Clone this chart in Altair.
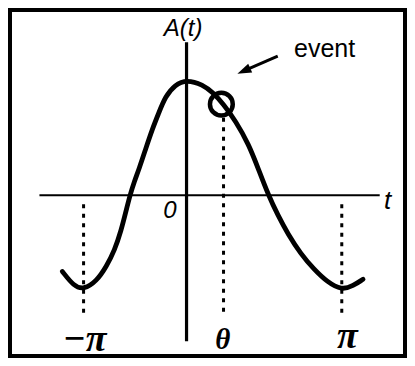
import altair as alt
import pandas as pd

# ---- values (t in radian-like units, A in amplitude units)
curve_t = [-2.519, -2.287, -2.088, -1.823, -1.625, -1.458, -1.326, -1.227, -1.147, -1.060,
           -0.960, -0.829, -0.696, -0.563, -0.431, -0.233, 0.0,
           0.332, 0.531, 0.750, 0.994, 1.259, 1.458, 1.660,
           1.855, 2.054, 2.321, 2.585, 2.849, 3.148, 3.380, 3.579]
curve_a = [-0.730, -0.870, -0.905, -0.823, -0.683, -0.526, -0.338, -0.150, 0.0, 0.131,
           0.256, 0.444, 0.632, 0.789, 0.946, 1.060, 1.108,
           1.060, 0.985, 0.873, 0.711, 0.491, 0.250, 0.0,
           -0.194, -0.370, -0.565, -0.710, -0.830, -0.910, -0.867, -0.805]

# dotted guide lines at -pi, theta, pi
guide_t = [-2.088, 0.75, 3.148]
guide_top = [-0.085, 0.742, -0.085]
guide_bottom = [-1.164, -1.164, -1.164]

# axes extents
xaxis_t = [-2.983, 3.917]
yaxis_a = [-1.399, 1.465]

# event circle
event_t = [0.706]
event_a = [0.873]

# arrow (tail -> head)
arrow_t = [1.849, 1.161]
arrow_a = [1.333, 1.191]

# labels
sans_text = ["A(t)", "event", "t", "0"]
sans_t = [-0.07, 2.80, 4.076, -0.338]
sans_a = [1.596, 1.399, -0.056, -0.150]
sans_size = [24, 25, 26, 24]
sans_style = ["italic", "normal", "italic", "italic"]

serif_text = ["\u2212\u03c0", "\u03b8", "\u03c0"]
serif_t = [-2.068, 0.736, 3.261]
serif_a = [-1.39, -1.39, -1.36]
serif_size = [38, 29, 38]

X_DOMAIN = [-3.58, 4.43]
Y_DOMAIN = [-1.54, 1.775]

xs = alt.Scale(domain=X_DOMAIN, nice=False, zero=False)
ys = alt.Scale(domain=Y_DOMAIN, nice=False, zero=False)

curve_df = pd.DataFrame({"t": curve_t, "A": curve_a})
curve = alt.Chart(curve_df).mark_line(
    color="black", strokeWidth=4.8, interpolate="basis", strokeCap="round"
).encode(
    x=alt.X("t:Q", scale=xs, axis=None),
    y=alt.Y("A:Q", scale=ys, axis=None),
)

xaxis_df = pd.DataFrame({"t1": [xaxis_t[0]], "t2": [xaxis_t[1]], "A": [0.0]})
xaxis = alt.Chart(xaxis_df).mark_rule(color="black", strokeWidth=2).encode(
    x=alt.X("t1:Q", scale=xs, axis=None), x2="t2:Q",
    y=alt.Y("A:Q", scale=ys, axis=None),
)

yaxis_df = pd.DataFrame({"t": [0.0], "a1": [yaxis_a[0]], "a2": [yaxis_a[1]]})
yaxis = alt.Chart(yaxis_df).mark_rule(color="black", strokeWidth=3.2).encode(
    x=alt.X("t:Q", scale=xs, axis=None),
    y=alt.Y("a1:Q", scale=ys, axis=None), y2="a2:Q",
)

guide_df = pd.DataFrame({"t": guide_t, "top": guide_top, "bottom": guide_bottom})
guides = alt.Chart(guide_df).mark_rule(
    color="black", strokeWidth=3, strokeDash=[4, 5.5]
).encode(
    x=alt.X("t:Q", scale=xs, axis=None),
    y=alt.Y("top:Q", scale=ys, axis=None), y2="bottom:Q",
)

event_df = pd.DataFrame({"t": event_t, "A": event_a})
circle = alt.Chart(event_df).mark_point(
    shape="circle", filled=False, color="black", strokeWidth=4.5, size=520, opacity=1
).encode(
    x=alt.X("t:Q", scale=xs, axis=None),
    y=alt.Y("A:Q", scale=ys, axis=None),
)

arrow_df = pd.DataFrame({"t1": [arrow_t[0]], "a1": [arrow_a[0]],
                         "t2": [arrow_t[1]], "a2": [arrow_a[1]]})
arrow_line = alt.Chart(arrow_df).mark_rule(color="black", strokeWidth=3).encode(
    x=alt.X("t1:Q", scale=xs, axis=None), x2="t2:Q",
    y=alt.Y("a1:Q", scale=ys, axis=None), y2="a2:Q",
)
arrow_head = alt.Chart(arrow_df).mark_point(
    shape="M0,-1L-0.7,1L0.7,1Z", filled=True, color="black", opacity=1,
    size=196, angle=246, strokeWidth=0
).encode(
    x=alt.X("t2:Q", scale=xs, axis=None),
    y=alt.Y("a2:Q", scale=ys, axis=None),
)

sans_df = pd.DataFrame({"text": sans_text, "t": sans_t, "A": sans_a})
sans_layers = []
for i in range(len(sans_text)):
    sub = sans_df.iloc[[i]]
    sans_layers.append(
        alt.Chart(sub).mark_text(
            font="Liberation Sans", fontSize=sans_size[i], fontStyle=sans_style[i],
            align="center", baseline="middle", color="black"
        ).encode(
            x=alt.X("t:Q", scale=xs, axis=None),
            y=alt.Y("A:Q", scale=ys, axis=None),
            text="text:N",
        )
    )

serif_df = pd.DataFrame({"text": serif_text, "t": serif_t, "A": serif_a})
serif_layers = []
for i in range(len(serif_text)):
    sub = serif_df.iloc[[i]]
    serif_layers.append(
        alt.Chart(sub).mark_text(
            font="Liberation Serif", fontSize=serif_size[i], fontStyle="italic",
            fontWeight="bold", align="center", baseline="middle", color="black"
        ).encode(
            x=alt.X("t:Q", scale=xs, axis=None),
            y=alt.Y("A:Q", scale=ys, axis=None),
            text="text:N",
        )
    )

chart = alt.layer(
    xaxis, yaxis, guides, curve, circle, arrow_line, arrow_head,
    *sans_layers, *serif_layers
).properties(
    width=395, height=346,
    autosize=alt.AutoSizeParams(type="none"),
    padding={"left": 2, "top": 2, "right": 2, "bottom": 2},
    background="white",
).configure_view(stroke="black", strokeWidth=4)

chart.save("out.html", embed_options={"renderer": "svg", "actions": False})
